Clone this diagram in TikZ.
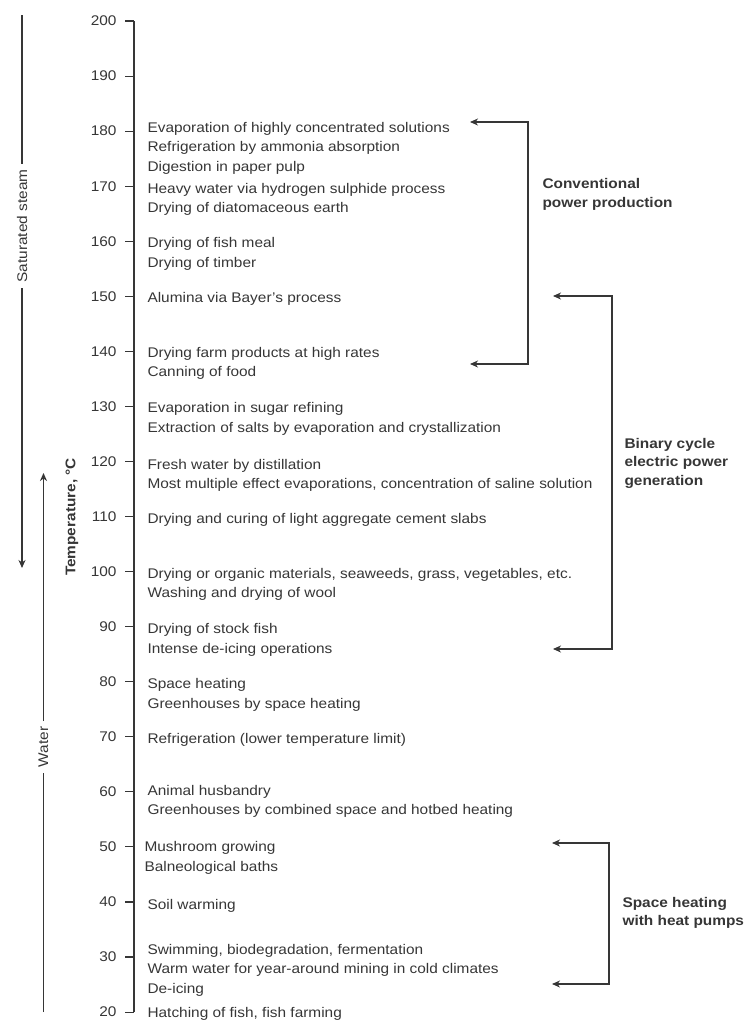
\documentclass[tikz,border=0pt]{standalone}
\usepackage{fontspec}
\setmainfont{Liberation Sans}[FakeStretch=1.1]
\usetikzlibrary{arrows.meta, positioning}
\definecolor{ink}{HTML}{363636}
\tikzstyle{use} = [anchor=mid west, inner sep=0pt, yshift=-2.5pt, text=ink, font=\fontsize{14}{16}\selectfont]
\tikzstyle{tick} = [anchor=mid east, inner sep=0pt, text=ink, font=\fontsize{14}{16}\selectfont]
\tikzstyle{group} = [anchor=west, inner sep=0pt, align=left, text=ink, font=\fontsize{14}{18.5}\selectfont\bfseries]
\tikzstyle{side} = [rotate=90, inner sep=5pt, text=ink, font=\fontsize{14}{16}\selectfont]

\begin{document}
\begin{tikzpicture}[x=1pt, y=-1pt, >={Stealth[length=8pt, width=7pt, inset=2.5pt]}, line width=1.1pt, draw=ink]
    \useasboundingbox (0,0) rectangle (753,1021);
    % temperature axis
    \coordinate (axtop) at (134,21);
    \coordinate (axbot) at (134,1012);
    \draw (axtop) -- (axbot);
    \foreach \t [count=\i from 0] in {200,190,...,20} {
        \coordinate (t\t) at (134,21+55.06*\i);
        \draw (t\t) -- ++(-9,0) coordinate (l\t);
        \node[tick, left=8pt of l\t] (n\t) {\t};
    }
    % applications
    \foreach \y/\txt [count=\i] in {
        127/Evaporation of highly concentrated solutions,
        146/Refrigeration by ammonia absorption,
        166/Digestion in paper pulp,
        188/Heavy water via hydrogen sulphide process,
        207/Drying of diatomaceous earth,
        242/Drying of fish meal,
        262/Drying of timber,
        297/Alumina via Bayer's process,
        352/Drying farm products at high rates,
        371/Canning of food,
        407/Evaporation in sugar refining,
        427/Extraction of salts by evaporation and crystallization,
        464/Fresh water by distillation,
        483/{Most multiple effect evaporations, concentration of saline solution},
        518/Drying and curing of light aggregate cement slabs,
        573/{Drying or organic materials, seaweeds, grass, vegetables, etc.},
        592/Washing and drying of wool,
        628/Drying of stock fish,
        648/Intense de-icing operations,
        683/Space heating,
        703/Greenhouses by space heating,
        738/Refrigeration (lower temperature limit),
        790/Animal husbandry,
        809/Greenhouses by combined space and hotbed heating,
        949/{Swimming, biodegradation, fermentation},
        968/Warm water for year-around mining in cold climates,
        988/De-icing,
        1012/{Hatching of fish, fish farming},
        904/Soil warming} {
        \node[use] (app\i) at (147,\y) {\txt};
    }
    \node[use] (mush) at (144,846) {Mushroom growing};
    \node[use] (baln) at (144,866) {Balneological baths};
    % fluid state
    \node[side] (steam) at (22,226) {Saturated steam};
    \coordinate (steamtop) at (22,15);
    \coordinate (steamtip) at (22,568);
    \draw (steamtop) -- (steam.east);
    \draw[->] (steam.west) -- (steamtip);
    \node[side] (water) at (43.5,747) {Water};
    \coordinate (watertip) at (43.5,473);
    \coordinate (waterbot) at (43.5,1012);
    \draw[->] (water.east) -- (watertip);
    \draw (waterbot) -- (water.west);
    \node[side, font=\fontsize{14}{16}\selectfont\bfseries] (temp) at (72,517) {Temperature, °C};
    % power ranges
    \coordinate (convtop) at (470,122);
    \coordinate (convbot) at (470,364);
    \draw[<->] (convtop) -- ++(58,0) |- (convbot);
    \node[group] (conv) at (542,194.5) {Conventional\\power production};
    \coordinate (bintop) at (553,296);
    \coordinate (binbot) at (553,649);
    \draw[<->] (bintop) -- ++(59,0) |- (binbot);
    \node[group] (bin) at (624,463) {Binary cycle\\electric power\\generation};
    \coordinate (pumptop) at (552,843);
    \coordinate (pumpbot) at (552,984);
    \draw[<->] (pumptop) -- ++(57,0) |- (pumpbot);
    \node[group] (pump) at (622,913) {Space heating\\with heat pumps};
\end{tikzpicture}
\end{document}
